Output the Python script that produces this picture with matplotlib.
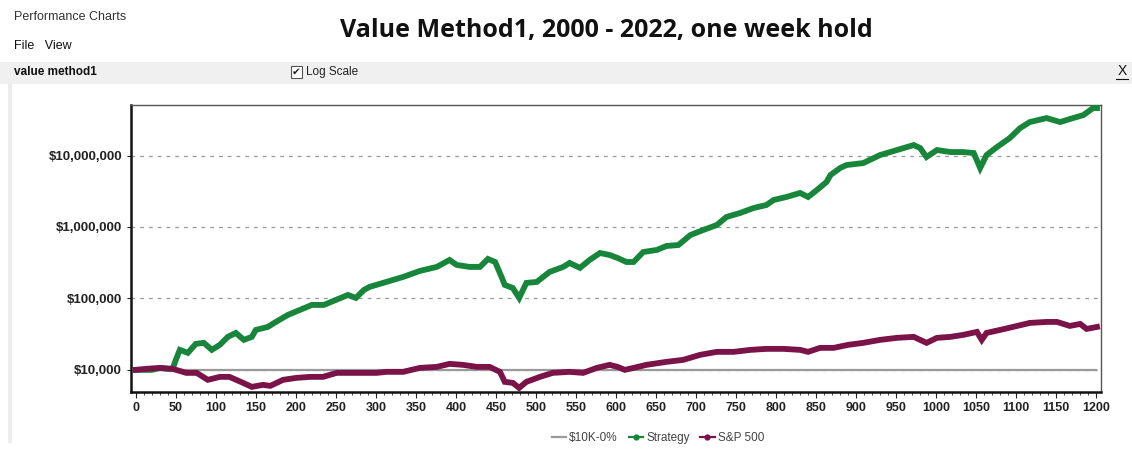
import matplotlib
matplotlib.use('Agg')
import matplotlib.pyplot as plt
import matplotlib.ticker as mticker
from matplotlib.patches import Rectangle
from matplotlib.lines import Line2D

# weekly equity curves
strat_weeks = [0, 20, 30, 40, 46, 50, 55, 65, 75, 85, 95, 105, 115, 125, 135, 145, 150,
               165, 175, 190, 205, 220, 235, 250, 265, 275, 285, 292, 313, 334, 355, 376,
               392, 401, 417, 430, 440, 449, 457, 461, 471, 479, 488, 501, 517, 534, 542,
               555, 567, 580, 592, 602, 613, 622, 634, 651, 663, 678, 693, 709, 726, 738,
               755, 772, 788, 797, 813, 830, 840, 851, 863, 868, 880, 888, 909, 930, 951,
               972, 980, 988, 1001, 1018, 1034, 1047, 1055, 1063, 1076, 1092, 1105, 1117,
               1138, 1155, 1171, 1184, 1196, 1201]
strat_vals = [10000, 10000, 10600, 10330, 10330, 13800, 19050, 17300, 23120, 23880, 19050,
              22390, 28980, 32900, 26300, 28980, 36240, 39920, 46880, 58750, 69000, 81070,
              81070, 95230, 111900, 101600, 131400, 145000, 170100, 199900, 242700, 276000,
              345500, 294300, 276000, 276000, 356700, 323700, 199900, 154400, 140200, 101600,
              164800, 170100, 234900, 276000, 313800, 267500, 345500, 432500, 405500, 368300,
              323700, 323700, 446700, 476500, 542000, 559500, 772000, 907000, 1066000,
              1380000, 1570000, 1845000, 2032000, 2389000, 2631000, 2994000, 2631000,
              3292000, 4260000, 5334000, 6686000, 7362000, 7853000, 10170000, 11940000,
              14030000, 12740000, 9530000, 11940000, 11190000, 11190000, 10840000, 6686000,
              10170000, 13150000, 17580000, 24270000, 29440000, 33450000, 29440000,
              33450000, 36840000, 46150000, 46150000]

spx_weeks = [0, 13, 30, 46, 63, 76, 90, 105, 117, 134, 145, 159, 168, 184, 201, 218, 234,
             251, 268, 284, 301, 313, 334, 355, 376, 392, 409, 426, 442, 455, 461, 471, 479,
             488, 505, 521, 542, 559, 576, 592, 602, 611, 622, 638, 663, 684, 705, 726, 747,
             768, 788, 809, 830, 840, 855, 872, 890, 909, 930, 951, 972, 988, 1001, 1018,
             1034, 1051, 1057, 1063, 1080, 1096, 1117, 1138, 1151, 1167, 1180, 1188, 1201]
spx_vals = [10000, 10330, 10660, 10330, 9080, 9080, 7250, 7980, 7980, 6580, 5780, 6170,
            5970, 7250, 7730, 7980, 7980, 9080, 9080, 9080, 9080, 9380, 9380, 10660, 11010,
            12130, 11750, 11010, 11010, 9380, 6790, 6580, 5600, 6790, 7980, 9080, 9380, 9080,
            10660, 11750, 11010, 10000, 10660, 11750, 12940, 13800, 16220, 17870, 17870,
            19050, 19680, 19680, 19050, 17870, 20320, 20320, 22390, 23880, 26300, 28060,
            28980, 23880, 28060, 28980, 30910, 33980, 26300, 32900, 36240, 39920, 45400,
            46880, 46880, 41210, 43960, 37430, 39920]

base_weeks = [0, 1200]
base_vals = [10000, 10000]

series_names = ['$10K-0%', 'Strategy', 'S&P 500']
c_base = '#9a9a9a'
c_strat = '#17863a'
c_spx = '#7a1347'

W, H = 1132, 449
fig = plt.figure(figsize=(W / 100, H / 100), dpi=100)
fig.patch.set_facecolor('white')

# window chrome
fig.patches.append(Rectangle((0, 1 - 84 / H), 1, 22 / H, transform=fig.transFigure,
                             facecolor='#f0f0f0', edgecolor='none', zorder=0))
fig.patches.append(Rectangle((8 / W, 1 - 443 / H), 4 / W, 359 / H, transform=fig.transFigure,
                             facecolor='#ececec', edgecolor='none', zorder=0))
fig.text(14 / W, 1 - 17 / H, 'Performance Charts', fontsize=9, color='#333333',
         family='Liberation Sans', va='center')
fig.text(14 / W, 1 - 46 / H, 'File   View', fontsize=9, color='#111111',
         family='Liberation Sans', va='center')
fig.text(606 / W, 1 - 30 / H, 'Value Method1, 2000 - 2022, one week hold', fontsize=18,
         fontweight='bold', family='Open Sans', ha='center', va='center', color='#111111')
fig.text(14 / W, 1 - 72 / H, 'value method1', fontsize=8.5, fontweight='bold',
         family='Liberation Sans', va='center', color='#111111')
fig.patches.append(Rectangle((291 / W, 1 - 78 / H), 11 / W, 12 / H, transform=fig.transFigure,
                             facecolor='white', edgecolor='#555555', lw=0.8, zorder=1))
fig.text(296.5 / W, 1 - 72 / H, '\u2714', fontsize=7.5, ha='center', va='center',
         color='#222222')
fig.text(306 / W, 1 - 72 / H, 'Log Scale', fontsize=8.5, family='Liberation Sans',
         va='center', color='#222222')
fig.text(1122 / W, 1 - 71 / H, 'X', fontsize=10, family='Liberation Sans', ha='center',
         va='center', color='#111111')
fig.lines.append(Line2D([1116 / W, 1128 / W], [1 - 79 / H, 1 - 79 / H],
                        transform=fig.transFigure, color='#111111', lw=0.8))

ax = fig.add_axes([131 / W, 1 - 392 / H, 970 / W, 287 / H])
ax.plot(base_weeks, base_vals, color=c_base, lw=1.6, zorder=2)
ax.plot(strat_weeks, strat_vals, color=c_strat, lw=4.2, zorder=3, solid_joinstyle='miter')
ax.plot(spx_weeks, spx_vals, color=c_spx, lw=4.2, zorder=4, solid_joinstyle='miter')

ax.set_yscale('log')
ax.set_ylim(4900, 5.1e7)
ax.set_xlim(-6, 1206)
ax.yaxis.set_major_locator(mticker.FixedLocator([1e4, 1e5, 1e6, 1e7]))
ax.yaxis.set_minor_locator(mticker.NullLocator())
ax.yaxis.set_major_formatter(mticker.FuncFormatter(lambda v, p: f'${v:,.0f}'))
ax.xaxis.set_major_locator(mticker.MultipleLocator(50))
ax.xaxis.set_minor_locator(mticker.MultipleLocator(10))
ax.yaxis.grid(True, which='major', linestyle=(0, (3, 4)), color='#9a9a9a', lw=0.9)
ax.set_axisbelow(True)

ax.tick_params(axis='y', labelsize=9.5, colors='#222222', length=3, width=0.8)
ax.tick_params(axis='x', which='major', labelsize=9, colors='#222222', length=4, width=0.8)
ax.tick_params(axis='x', which='minor', length=2.5, width=0.7, colors='#444444')
for lab in ax.get_xticklabels() + ax.get_yticklabels():
    lab.set_family('Liberation Sans')
    lab.set_fontweight('bold')
for side in ['top', 'right']:
    ax.spines[side].set_color('#555555')
    ax.spines[side].set_linewidth(1.0)
for side in ['left', 'bottom']:
    ax.spines[side].set_color('#111111')
    ax.spines[side].set_linewidth(1.8)

handles = [Line2D([], [], color=c_base, lw=1.6),
           Line2D([], [], color=c_strat, lw=1.6, marker='o', markersize=3.5),
           Line2D([], [], color=c_spx, lw=1.6, marker='o', markersize=3.5)]
fig.legend(handles, series_names, loc='center', bbox_to_anchor=(658 / W, 1 - 438 / H),
           ncol=3, frameon=False, handlelength=1.2, handletextpad=0.3,
           columnspacing=0.9, prop={'family': 'Liberation Sans', 'size': 8.5})
for t in fig.legends[0].get_texts():
    t.set_color('#444444')

fig.savefig('out.png', dpi=100)
